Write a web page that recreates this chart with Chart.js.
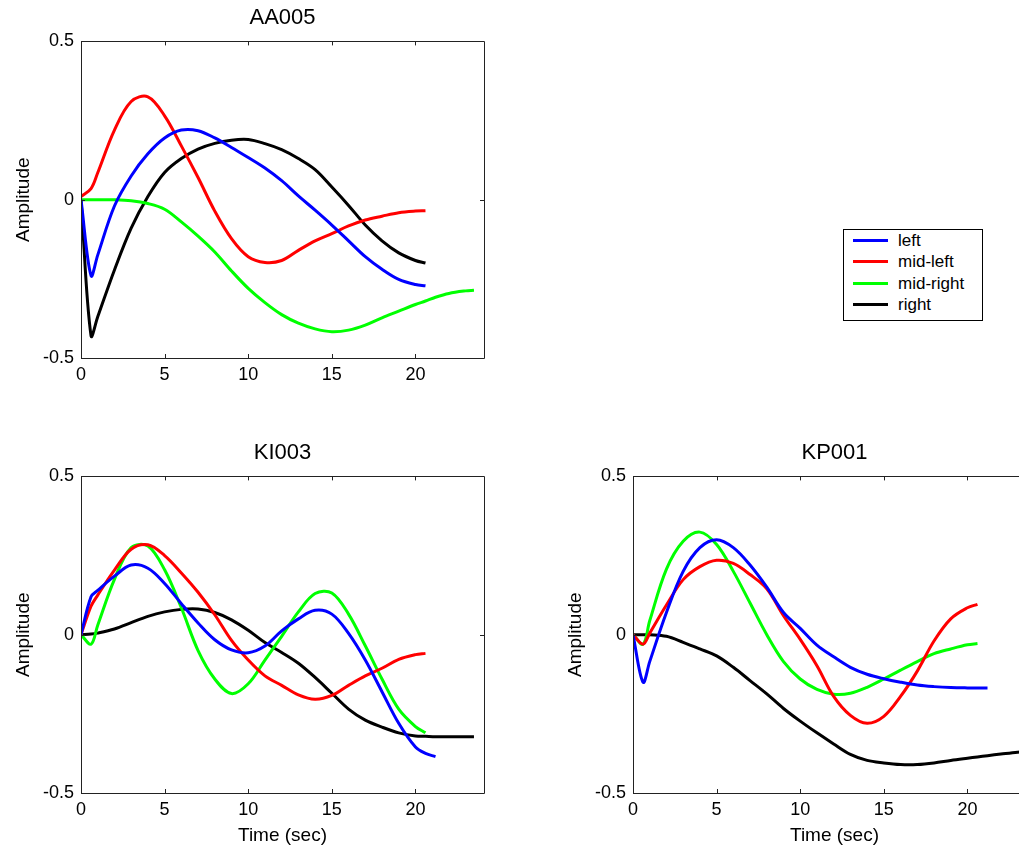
<!DOCTYPE html>
<html>
<head>
<meta charset="utf-8">
<title>Amplitude by region</title>
<script src="https://cdn.jsdelivr.net/npm/chart.js@4/dist/chart.umd.min.js"></script>
<style>
  html, body { margin: 0; padding: 0; background: #fff; width: 1019px; height: 848px; overflow: hidden; }
  body { position: relative; font-family: "Liberation Sans", Arial, sans-serif; }
  canvas { position: absolute; }
  #legend { position: absolute; left: 843px; top: 229px; width: 138px; height: 90px; border: 1px solid #000; background: #fff; }
  #legend .row { position: absolute; left: 0; height: 20px; width: 138px; }
  #legend .swatch { position: absolute; left: 9px; top: 8px; width: 35px; height: 3px; }
  #legend .name { position: absolute; left: 54px; top: 0; font-size: 17px; line-height: 20px; color: #000; white-space: nowrap; }
</style>
</head>
<body>
<canvas id="aa005" width="500" height="400" style="left:0;top:0"></canvas>
<canvas id="ki003" width="500" height="408" style="left:0;top:440px"></canvas>
<canvas id="kp001" width="500" height="408" style="left:560px;top:440px"></canvas>
<div id="legend"></div>
<script>
// sample times (sec); null = no sample for that trace
const time = [0, 0.6, 1, 2, 3, 4, 5, 6, 7, 8, 9, 10, 11, 12, 13, 14, 15, 16, 17, 18, 19, 20, 20.6, 21.2, 22, 23, 23.5];
const xTicks = [0, 5, 10, 15, 20];
const yTicks = [-0.5, 0, 0.5];
const seriesNames = ['left', 'mid-left', 'mid-right', 'right'];
const seriesColors = ['#0000ff', '#ff0000', '#00ff00', '#000000'];

const aa005Left = [0, -0.24, -0.175, -0.02, 0.075, 0.145, 0.195, 0.22, 0.218, 0.195, 0.165, 0.133, 0.1, 0.06, 0.012, -0.033, -0.08, -0.13, -0.18, -0.22, -0.252, -0.268, -0.272, null, null, null, null];
const aa005MidLeft = [0.01, 0.035, 0.085, 0.22, 0.31, 0.325, 0.265, 0.17, 0.07, -0.036, -0.123, -0.18, -0.198, -0.192, -0.16, -0.13, -0.107, -0.083, -0.064, -0.052, -0.041, -0.036, -0.035, null, null, null, null];
const aa005MidRight = [0, 0, 0, 0, -0.003, -0.012, -0.03, -0.07, -0.115, -0.165, -0.225, -0.28, -0.325, -0.363, -0.39, -0.408, -0.417, -0.412, -0.396, -0.373, -0.352, -0.331, -0.32, -0.308, -0.296, -0.288, -0.286];
const aa005Right = [0, -0.43, -0.37, -0.222, -0.09, 0.01, 0.086, 0.13, 0.16, 0.178, 0.188, 0.19, 0.177, 0.158, 0.13, 0.095, 0.04, -0.018, -0.08, -0.13, -0.168, -0.192, -0.2, null, null, null, null];

const ki003Left = [0, 0.12, 0.14, 0.185, 0.22, 0.21, 0.162, 0.098, 0.037, -0.016, -0.048, -0.057, -0.036, 0.012, 0.05, 0.077, 0.065, 0.004, -0.08, -0.18, -0.28, -0.355, -0.375, -0.385, null, null, null];
const ki003MidLeft = [0, 0.09, 0.125, 0.204, 0.27, 0.284, 0.25, 0.195, 0.134, 0.063, -0.018, -0.08, -0.13, -0.16, -0.19, -0.204, -0.192, -0.16, -0.13, -0.106, -0.078, -0.063, -0.059, null, null, null, null];
const ki003MidRight = [0, -0.03, 0.03, 0.175, 0.275, 0.28, 0.205, 0.085, -0.05, -0.14, -0.186, -0.155, -0.08, -0.005, 0.072, 0.13, 0.132, 0.065, -0.035, -0.14, -0.235, -0.29, -0.31, null, null, null, null];
const ki003Right = [0, 0.002, 0.005, 0.018, 0.038, 0.058, 0.072, 0.08, 0.081, 0.07, 0.047, 0.014, -0.025, -0.056, -0.09, -0.135, -0.185, -0.235, -0.27, -0.292, -0.31, -0.32, -0.321, -0.322, -0.322, -0.322, -0.322];

const kp001Left = [0, -0.15, -0.085, 0.07, 0.2, 0.275, 0.3, 0.275, 0.22, 0.15, 0.07, 0.02, -0.033, -0.07, -0.103, -0.125, -0.139, -0.15, -0.159, -0.164, -0.167, -0.168, -0.168, -0.168, null, null, null];
const kp001MidLeft = [0, -0.03, 0.005, 0.094, 0.174, 0.215, 0.235, 0.225, 0.19, 0.145, 0.06, -0.015, -0.098, -0.195, -0.255, -0.28, -0.258, -0.195, -0.115, -0.02, 0.05, 0.085, 0.096, null, null, null, null];
const kp001MidRight = [0, -0.03, 0.044, 0.207, 0.295, 0.324, 0.285, 0.2, 0.1, 0.0, -0.085, -0.14, -0.173, -0.188, -0.185, -0.166, -0.14, -0.112, -0.085, -0.06, -0.045, -0.032, -0.028, null, null, null, null];
const kp001Right = [0, 0, 0, -0.005, -0.024, -0.045, -0.067, -0.103, -0.145, -0.187, -0.233, -0.273, -0.31, -0.345, -0.378, -0.397, -0.405, -0.41, -0.41, -0.405, -0.397, -0.39, -0.386, -0.382, -0.377, -0.371, -0.369];

Chart.defaults.font.family = "'Liberation Sans', Arial, sans-serif";
Chart.defaults.color = '#000';

function toPoints(values) {
  return time.map((t, i) => ({ x: t, y: values[i] })).filter(p => p.y !== null);
}

// axes box with inward ticks on all four sides
const framePlugin = {
  id: 'frame',
  afterDraw(chart) {
    const { ctx, chartArea: a, scales: { x, y } } = chart;
    const len = 4;
    ctx.save();
    ctx.strokeStyle = '#222';
    ctx.lineWidth = 1;
    ctx.beginPath();
    ctx.rect(Math.round(a.left) + 0.5, Math.round(a.top) + 0.5, Math.round(a.right - a.left), Math.round(a.bottom - a.top));
    x.ticks.forEach(t => {
      const px = Math.round(x.getPixelForValue(t.value)) + 0.5;
      ctx.moveTo(px, a.bottom); ctx.lineTo(px, a.bottom - len);
      ctx.moveTo(px, a.top); ctx.lineTo(px, a.top + len);
    });
    y.ticks.forEach(t => {
      const py = Math.round(y.getPixelForValue(t.value)) + 0.5;
      ctx.moveTo(a.left, py); ctx.lineTo(a.left + len, py);
      ctx.moveTo(a.right, py); ctx.lineTo(a.right - len, py);
    });
    ctx.stroke();
    ctx.restore();
  }
};

function panel(id, title, series, o) {
  return new Chart(document.getElementById(id), {
    type: 'line',
    data: {
      datasets: series.map((vals, i) => ({
        label: seriesNames[i],
        data: toPoints(vals),
        borderColor: seriesColors[i],
        backgroundColor: seriesColors[i],
        borderWidth: 3,
        pointRadius: 0,
        tension: 0.35,
        fill: false
      }))
    },
    options: {
      responsive: false,
      animation: false,
      events: [],
      layout: { padding: { left: o.padLeft, right: o.padRight, top: 0, bottom: 0 } },
      plugins: {
        legend: { display: false },
        tooltip: { enabled: false },
        title: {
          display: true,
          text: title,
          fullSize: false,
          color: '#000',
          font: { size: 22, weight: 'normal' },
          padding: { top: o.titleTop, bottom: 10 }
        }
      },
      scales: {
        x: {
          type: 'linear',
          min: 0,
          max: 24.1,
          grid: { display: false, drawTicks: false },
          border: { display: false },
          afterBuildTicks: s => { s.ticks = xTicks.map(v => ({ value: v })); },
          afterFit: s => { s.height = o.xHeight; },
          ticks: { font: { size: 18 }, color: '#000', padding: 6, maxRotation: 0, callback: v => String(v) },
          title: {
            display: o.xTitle,
            text: 'Time (sec)',
            color: '#000',
            font: { size: 19 },
            padding: { top: 0, bottom: 1 }
          }
        },
        y: {
          type: 'linear',
          min: -0.5,
          max: 0.5,
          grid: { display: false, drawTicks: false },
          border: { display: false },
          afterBuildTicks: s => { s.ticks = yTicks.map(v => ({ value: v })); },
          afterFit: s => { s.width = 69; },
          ticks: { font: { size: 18 }, color: '#000', padding: 7, callback: v => String(v) },
          title: {
            display: true,
            text: 'Amplitude',
            color: '#000',
            font: { size: 19 },
            padding: { top: 0, bottom: 0 }
          }
        }
      }
    },
    plugins: [framePlugin]
  });
}

panel('aa005', 'AA005', [aa005Left, aa005MidLeft, aa005MidRight, aa005Right],
  { padLeft: 12, padRight: 16, titleTop: 5, xHeight: 42, xTitle: false });
panel('ki003', 'KI003', [ki003Left, ki003MidLeft, ki003MidRight, ki003Right],
  { padLeft: 12, padRight: 16, titleTop: 0, xHeight: 55, xTitle: true });
panel('kp001', 'KP001', [kp001Left, kp001MidLeft, kp001MidRight, kp001Right],
  { padLeft: 4, padRight: 24, titleTop: 0, xHeight: 55, xTitle: true });

// legend box beside the top panel
const legend = document.getElementById('legend');
seriesNames.forEach((name, i) => {
  const row = document.createElement('div');
  row.className = 'row';
  row.style.top = (1 + 21.4 * i) + 'px';
  const sw = document.createElement('span');
  sw.className = 'swatch';
  sw.style.background = seriesColors[i];
  const label = document.createElement('span');
  label.className = 'name';
  label.textContent = name;
  row.appendChild(sw);
  row.appendChild(label);
  legend.appendChild(row);
});
</script>
</body>
</html>
